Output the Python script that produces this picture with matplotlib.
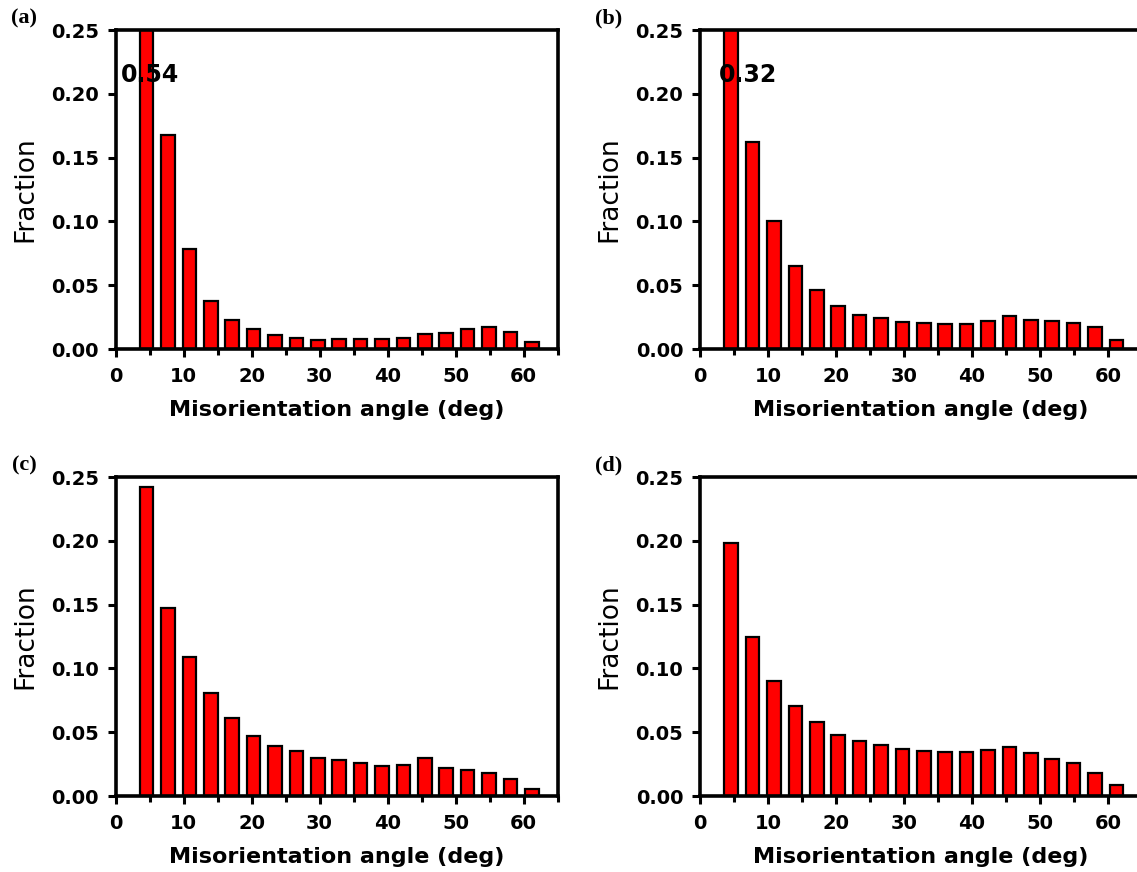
import numpy as np
import matplotlib
matplotlib.use("Agg")
import matplotlib.pyplot as plt
from matplotlib.ticker import MultipleLocator

# misorientation histogram, 19 bins between 3 and 62.8 deg
bin_start = 3.0
bin_end = 62.8
n_bins = 19

frac_a = [0.54, 0.168, 0.078, 0.038, 0.023, 0.016, 0.011, 0.009, 0.007, 0.008,
          0.008, 0.008, 0.009, 0.012, 0.0125, 0.016, 0.017, 0.013, 0.0055]
frac_b = [0.32, 0.162, 0.100, 0.065, 0.046, 0.034, 0.027, 0.024, 0.021, 0.020,
          0.0196, 0.0196, 0.022, 0.026, 0.023, 0.022, 0.020, 0.017, 0.0073]
frac_c = [0.242, 0.147, 0.109, 0.081, 0.0615, 0.047, 0.039, 0.035, 0.030, 0.028,
          0.026, 0.0235, 0.024, 0.0295, 0.022, 0.020, 0.018, 0.013, 0.0057]
frac_d = [0.198, 0.125, 0.0905, 0.0705, 0.0577, 0.0478, 0.043, 0.040, 0.037, 0.035,
          0.0347, 0.0347, 0.0357, 0.0384, 0.034, 0.0287, 0.0256, 0.018, 0.0084]

panel_labels = ["(a)", "(b)", "(c)", "(d)"]
# labels for the clipped first bar
clip_notes = ["0.54", "0.32", None, None]

edges = np.linspace(bin_start, bin_end, n_bins + 1)
centers = (edges[:-1] + edges[1:]) / 2

W, H = 1137, 872
fig = plt.figure(figsize=(W / 100, H / 100), dpi=100)

# axes boxes in pixels: left, top, bottom (right ones run off the page like the original)
ax_w = 442
boxes = [(115.5, 30, 349), (700, 30, 349), (115.5, 477, 796), (700, 477, 796)]
note_x = [5.1, 7.0]

all_fracs = [frac_a, frac_b, frac_c, frac_d]
for i, (left, top, bottom) in enumerate(boxes):
    ax = fig.add_axes([left / W, 1 - bottom / H, ax_w / W, (bottom - top) / H])
    ax.bar(centers, all_fracs[i], width=2.0, color="#ff0000", edgecolor="black",
           linewidth=1.6, zorder=2)
    ax.set_xlim(0, 65)
    ax.set_ylim(0, 0.25)
    ax.set_xticks([0, 10, 20, 30, 40, 50, 60])
    ax.set_yticks([0, 0.05, 0.10, 0.15, 0.20, 0.25])
    ax.xaxis.set_minor_locator(MultipleLocator(5))
    ax.tick_params(which="major", direction="out", length=6, width=2.2, pad=6,
                   labelsize=14, top=False, right=False)
    ax.tick_params(which="minor", direction="out", length=4, width=2.2,
                   top=False, right=False)
    ax.tick_params(axis="x", which="major", pad=7)
    for lab in ax.get_xticklabels() + ax.get_yticklabels():
        lab.set_fontweight("bold")
    for sp in ax.spines.values():
        sp.set_linewidth(2.6)
        sp.set_zorder(3)
    ax.set_ylabel("Fraction", fontsize=19, labelpad=9)
    ax.set_xlabel("Misorientation angle (deg)", fontsize=16, fontweight="bold",
                  labelpad=10)
    if clip_notes[i] is not None:
        ax.text(note_x[i], 0.2145, clip_notes[i], fontsize=17, fontweight="bold",
                ha="center", va="center", zorder=4)
    fig.text((left - 91) / W, 1 - (top - 12) / H, panel_labels[i],
             fontsize=16, fontweight="bold", family="Liberation Serif",
             ha="center", va="center")

fig.savefig("out.png", dpi=100)
